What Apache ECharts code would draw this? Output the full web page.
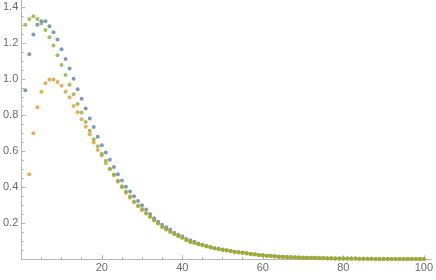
<!DOCTYPE html>
<html>
<head>
<meta charset="utf-8">
<script src="https://cdn.jsdelivr.net/npm/echarts@6/dist/echarts.min.js"></script>
<style>
html,body{margin:0;padding:0;background:#fff;}
#chart{width:436px;height:280px;}
</style>
</head>
<body>
<div id="chart"></div>
<script>
// x positions of the samples (1..100)
const xValues = Array.from({length: 100}, (_, i) => i + 1);

const blueValues = [0.939,1.139,1.248,1.302,1.322,1.322,1.294,1.261,1.220,1.167,
1.113,1.059,1.003,0.944,0.891,0.837,0.782,0.735,0.681,0.634,
0.593,0.553,0.513,0.472,0.437,0.403,0.377,0.350,0.324,0.300,
0.277,0.251,0.228,0.209,0.192,0.178,0.164,0.148,0.137,0.128,
0.113,0.106,0.097,0.088,0.081,0.074,0.068,0.062,0.058,0.054,
0.050,0.046,0.042,0.039,0.037,0.033,0.029,0.028,0.024,0.022,
0.020,0.020,0.017,0.015,0.014,0.013,0.012,0.011,0.010,0.009,
0.009,0.008,0.008,0.007,0.007,0.006,0.006,0.005,0.005,0.005,
0.004,0.004,0.004,0.003,0.003,0.003,0.003,0.002,0.002,0.002,
0.002,0.002,0.002,0.001,0.001,0.001,0.001,0.001,0.001,0.001];

const orangeValues = [null,0.472,0.700,0.844,0.931,0.978,0.998,0.998,0.985,0.964,
0.931,0.898,0.852,0.817,0.778,0.736,0.695,0.648,0.607,0.577,
0.534,0.500,0.467,0.430,0.400,0.370,0.342,0.317,0.294,0.273,
0.254,0.235,0.216,0.199,0.180,0.166,0.152,0.140,0.128,0.119,
0.106,0.095,0.091,0.083,0.078,0.071,0.066,0.060,0.056,0.052,
0.049,0.045,0.041,0.038,0.036,0.032,0.028,0.027,0.023,0.021,
0.019,0.019,0.016,0.013,0.013,0.012,0.011,0.010,0.009,0.008,
0.008,0.007,0.007,0.006,0.006,0.005,0.005,0.004,0.004,0.004,
0.003,0.003,0.003,0.002,0.002,0.002,0.002,0.002,0.002,0.001,
0.001,0.001,0.001,0.001,0.001,0.001,0.001,0.000,0.000,0.000];

const greenValues = [1.302,1.335,1.350,1.335,1.309,1.274,1.233,1.187,1.133,1.079,
1.024,0.970,0.917,0.863,0.815,0.763,0.714,0.667,0.628,0.586,
0.547,0.503,0.471,0.436,0.405,0.376,0.349,0.321,0.297,0.279,
0.257,0.237,0.218,0.200,0.181,0.167,0.153,0.141,0.129,0.120,
0.107,0.096,0.092,0.084,0.079,0.072,0.067,0.061,0.057,0.053,
0.050,0.046,0.042,0.039,0.037,0.033,0.029,0.028,0.024,0.022,
0.020,0.020,0.017,0.014,0.014,0.013,0.012,0.011,0.010,0.009,
0.009,0.008,0.008,0.007,0.007,0.006,0.006,0.005,0.005,0.005,
0.004,0.004,0.004,0.003,0.003,0.003,0.003,0.002,0.002,0.002,
0.002,0.002,0.002,0.001,0.001,0.001,0.001,0.001,0.001,0.001];

// tick labels / tick positions
const xMajorTicks = [20, 40, 60, 80, 100];
const xMinorTicks = [5, 10, 15, 25, 30, 35, 45, 50, 55, 65, 70, 75, 85, 90, 95];
const yMajorTicks = [0.2, 0.4, 0.6, 0.8, 1.0, 1.2, 1.4];
const yMinorTicks = [0.05, 0.1, 0.15, 0.25, 0.3, 0.35, 0.45, 0.5, 0.55, 0.65, 0.7, 0.75,
  0.85, 0.9, 0.95, 1.05, 1.1, 1.15, 1.25, 1.3, 1.35];

function pairs(vals) {
  return xValues.map((x, i) => [x, vals[i]]).filter(p => p[1] !== null);
}

const axisColor = '#b5b5b5';
const labelColor = '#6a6a6a';
const font = 'Liberation Sans, Arial, sans-serif';

const chart = echarts.init(document.getElementById('chart'), null, {renderer: 'canvas'});

const option = {
  animation: false,
  backgroundColor: '#ffffff',
  grid: {left: 20.2, right: 3.8, top: 0, bottom: 20.7, containLabel: false},
  xAxis: [
    {
      type: 'value', min: 0, max: 102, position: 'bottom',
      axisLine: {show: true, onZero: false, lineStyle: {color: axisColor, width: 1}},
      axisTick: {show: true, inside: true, length: 4, customValues: xMajorTicks, lineStyle: {color: axisColor}},
      axisLabel: {show: true, customValues: xMajorTicks, color: labelColor, fontSize: 11, fontFamily: font, margin: 3},
      splitLine: {show: false}
    },
    {
      type: 'value', min: 0, max: 102, position: 'bottom',
      axisLine: {show: false, onZero: false},
      axisTick: {show: true, inside: true, length: 2.5, customValues: xMinorTicks, lineStyle: {color: axisColor}},
      axisLabel: {show: false},
      splitLine: {show: false}
    }
  ],
  yAxis: [
    {
      type: 'value', min: 0, max: 1.44, position: 'left',
      axisLine: {show: true, onZero: false, lineStyle: {color: axisColor, width: 1}},
      axisTick: {show: true, inside: true, length: 4, customValues: yMajorTicks, lineStyle: {color: axisColor}},
      axisLabel: {show: true, customValues: yMajorTicks, color: labelColor, fontSize: 11, fontFamily: font, margin: 3,
        formatter: v => v.toFixed(1)},
      splitLine: {show: false}
    },
    {
      type: 'value', min: 0, max: 1.44, position: 'left',
      axisLine: {show: false, onZero: false},
      axisTick: {show: true, inside: true, length: 2.5, customValues: yMinorTicks, lineStyle: {color: axisColor}},
      axisLabel: {show: false},
      splitLine: {show: false}
    }
  ],
  series: [
    {type: 'scatter', name: 'blue', data: pairs(blueValues), symbol: 'circle', symbolSize: 4,
     itemStyle: {color: '#5e81b5'}, xAxisIndex: 0, yAxisIndex: 0, silent: true},
    {type: 'scatter', name: 'orange', data: pairs(orangeValues), symbol: 'circle', symbolSize: 4,
     itemStyle: {color: '#e19c24'}, xAxisIndex: 0, yAxisIndex: 0, silent: true},
    {type: 'scatter', name: 'green', data: pairs(greenValues), symbol: 'circle', symbolSize: 4,
     itemStyle: {color: '#8fb032'}, xAxisIndex: 0, yAxisIndex: 0, silent: true}
  ]
};
chart.setOption(option);
</script>
</body>
</html>
